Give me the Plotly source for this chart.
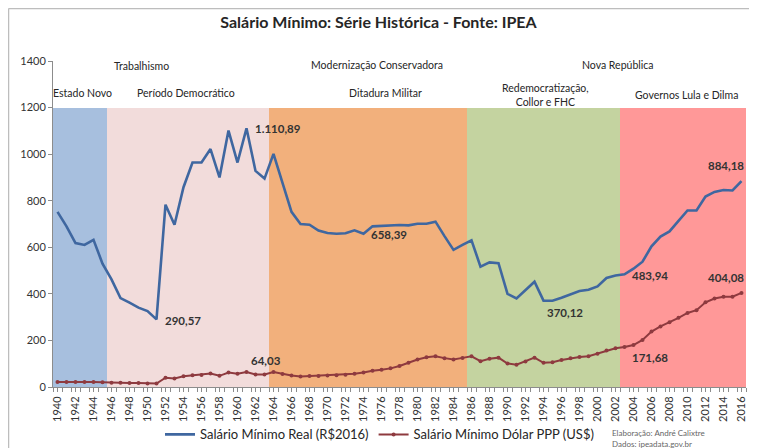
import plotly.graph_objects as go

# ── Data ────────────────────────────────────────────────────────────────────
years = list(range(1940, 2017))

salario_real = [
    752, 690, 618, 610, 632, 530, 462, 382, 362, 341,
    326, 290.57, 783, 697, 858, 964, 964, 1022, 900, 1101,
    964, 1110.89, 928, 895, 1001, 880, 752, 700, 697, 672,
    661, 658, 660, 673, 658.39, 690, 692, 694, 696, 694,
    701, 701, 710, 648, 589, 610, 630, 517, 535, 532,
    400, 380, 414, 452, 371, 370.12, 383, 396, 412, 418,
    432, 468, 479, 483.94, 508, 538, 604, 646, 668, 713,
    758, 758, 818, 838, 846, 844, 884.18,
]

salario_ppp = [
    22, 21, 21, 22, 22, 20, 18, 18, 17, 17,
    15, 15, 40, 37, 46, 50, 52, 58, 48, 62,
    57, 64, 54, 54, 64.03, 56, 49, 45, 47, 47,
    49, 50, 53, 57, 62, 70, 74, 80, 90, 104,
    118, 128, 132, 124, 118, 125, 132, 111, 121, 126,
    101, 96, 110, 126, 104, 106, 116, 123, 129, 132,
    143, 157, 166, 171.68, 180, 202, 238, 260, 278, 297,
    318, 330, 364, 380, 388, 388, 404.08,
]

era_names = ["Estado Novo", "Período Democrático", "Ditadura Militar",
             "Redemocratização,<br>Collor e FHC", "Governos Lula e Dilma"]
era_start = [1940, 1946, 1964, 1986, 2003]
era_end = [1945, 1963, 1985, 2002, 2016]
era_height = 1200

# Labelled points: (series, year, text)
point_labels = [
    ("real", 1961, "1.110,89"),
    ("real", 1951, "290,57"),
    ("real", 1974, "658,39"),
    ("real", 1995, "370,12"),
    ("real", 2003, "483,94"),
    ("real", 2016, "884,18"),
    ("ppp", 1964, "64,03"),
    ("ppp", 2003, "171,68"),
    ("ppp", 2016, "404,08"),
]

# ── Geometry / style ────────────────────────────────────────────────────────
# The page body has an 8px margin, so the figure is drawn 8px in from the
# window corner; page-pixel positions are converted with that offset.
PAGE_W, PAGE_H, OFF = 757, 448, 8
W, H = PAGE_W - OFF, PAGE_H - OFF
PL, PR, PT, PB = 53, 746, 61, 387.5          # plot area in page pixels
L, R, T, B = PL - OFF, PAGE_W - PR, PT - OFF, PAGE_H - PB
FONT = "Lato, 'Open Sans', sans-serif"
era_colors = ["#A7BFDE", "#F2DCDB", "#F2B07C", "#C4D3A0", "#FF9898"]
BLUE = "#3F67A0"
RED = "#8E3A3F"


def px(x, y):
    """Page pixel position -> paper coordinates."""
    return (x - PL) / (PR - PL), (PB - y) / (PB - PT)


fig = go.Figure()

# Era background bands
for name, start, end, color in zip(era_names, era_start, era_end, era_colors):
    xs = [yr for yr in years if start <= yr <= end]
    fig.add_trace(go.Bar(
        x=xs, y=[era_height] * len(xs), width=1,
        marker=dict(color=color, line=dict(width=0)),
        showlegend=False, hoverinfo="skip",
    ))

fig.add_trace(go.Scatter(
    x=years, y=salario_real, mode="lines",
    name="Salário Mínimo Real (R$2016)",
    line=dict(color=BLUE, width=2.6),
))
fig.add_trace(go.Scatter(
    x=years, y=salario_ppp, mode="lines+markers",
    name="Salário Mínimo Dólar PPP (US$)",
    line=dict(color=RED, width=2),
    marker=dict(color=RED, size=4),
))

# ── Annotations ─────────────────────────────────────────────────────────────
annotations = []

# Period headers (positions in page pixels)
headers = [
    ("Trabalhismo", 141, 66),
    ("Modernização Conservadora", 377, 65),
    ("Nova República", 618, 65),
    ("Estado Novo", 82, 93),
    ("Período Democrático", 186, 93),
    ("Ditadura Militar", 385, 93),
    (era_names[3], 545, 95),
    ("Governos Lula e Dilma", 686, 95),
]
for text, hx, hy in headers:
    ax, ay = px(hx, hy)
    annotations.append(dict(
        text=text, x=ax, y=ay, xref="paper", yref="paper",
        xanchor="center", yanchor="middle", showarrow=False,
        font=dict(size=10.5, color="#262626", family=FONT),
    ))

# Data labels
offsets = {
    ("real", 1961): dict(xanchor="left", yanchor="middle", xshift=6, yshift=0),
    ("real", 1951): dict(xanchor="left", yanchor="middle", xshift=6, yshift=-1),
    ("real", 1974): dict(xanchor="left", yanchor="middle", xshift=5, yshift=-1),
    ("real", 1995): dict(xanchor="center", yanchor="top", xshift=12, yshift=-3),
    ("real", 2003): dict(xanchor="left", yanchor="middle", xshift=5, yshift=-1),
    ("real", 2016): dict(xanchor="right", yanchor="bottom", xshift=4, yshift=7),
    ("ppp", 1964): dict(xanchor="center", yanchor="bottom", xshift=-8, yshift=3),
    ("ppp", 2003): dict(xanchor="left", yanchor="top", xshift=5, yshift=-2),
    ("ppp", 2016): dict(xanchor="right", yanchor="bottom", xshift=4, yshift=7),
}
for series, yr, text in point_labels:
    values = salario_real if series == "real" else salario_ppp
    annotations.append(dict(
        text=f"<b>{text}</b>", x=yr, y=values[years.index(yr)],
        xref="x", yref="y", showarrow=False,
        font=dict(size=11.5, color="#333333", family=FONT),
        **offsets[(series, yr)],
    ))

# Credits
for text, cy in [("Elaboração: André Calixtre", 434), ("Dados: ipeadata.gov.br", 445)]:
    ax, ay = px(610, cy)
    annotations.append(dict(
        text=text, x=ax, y=ay, xref="paper", yref="paper",
        xanchor="left", yanchor="middle", showarrow=False,
        font=dict(size=8, color="#666666", family=FONT),
    ))

# Outer chart frame: top and left edges (the others fall outside the window)
fx0, fy0 = px(8.5, 8.5)
fx1, fy1 = px(PAGE_W - 0.5, PAGE_H + 5)
frame = dict(color="#BDBDBD", width=1.5)
shapes = [
    dict(type="line", xref="paper", yref="paper", x0=fx0, x1=fx1, y0=fy0, y1=fy0,
         line=frame, layer="below"),
    dict(type="line", xref="paper", yref="paper", x0=fx0, x1=fx0, y0=fy0, y1=fy1,
         line=frame, layer="below"),
    dict(type="line", xref="paper", yref="paper", x0=fx1, x1=fx1, y0=fy0, y1=fy1,
         line=dict(color="#EEEEEE", width=1), layer="below"),
]

lx, ly = px(160, 435)

fig.update_layout(
    width=W, height=H,
    margin=dict(l=L, r=R, t=T, b=B, autoexpand=False),
    paper_bgcolor="white", plot_bgcolor="white",
    barmode="overlay", bargap=0,
    font=dict(family=FONT, color="#333333"),
    title=dict(
        text="<b>Salário Mínimo: Série Histórica - Fonte: IPEA</b>",
        x=(PAGE_W / 2 - OFF) / W, xref="container", xanchor="center",
        y=1 - (22 - OFF) / H, yref="container", yanchor="middle",
        font=dict(size=16, color="#262626", family=FONT),
    ),
    legend=dict(
        orientation="h", x=lx, y=ly, xanchor="left", yanchor="middle",
        font=dict(size=13, color="#262626", family=FONT),
        itemwidth=30, bgcolor="rgba(0,0,0,0)",
    ),
    annotations=annotations,
    shapes=shapes,
    xaxis=dict(
        range=[1939.5, 2016.5], tickvals=years[::2], tickangle=-90,
        tickfont=dict(size=11, color="#333333"),
        showgrid=False, zeroline=False,
        showline=True, linecolor="#8C8C8C", linewidth=1,
        ticks="outside", ticklen=4, tickcolor="#8C8C8C",
        minor=dict(ticks="outside", ticklen=4, tickcolor="#8C8C8C", dtick=1, tick0=1939.5),
    ),
    yaxis=dict(
        range=[0, 1400], dtick=200,
        tickfont=dict(size=11, color="#333333"),
        showgrid=False, zeroline=False,
        showline=True, linecolor="#8C8C8C", linewidth=1,
        ticks="outside", ticklen=4, tickcolor="#8C8C8C",
    ),
)

fig.write_html("out.html", config={"displayModeBar": False})
